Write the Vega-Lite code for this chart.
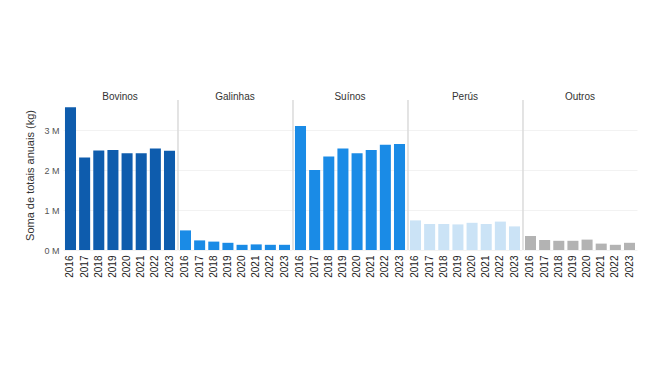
{
  "$schema": "https://vega.github.io/schema/vega-lite/v6.json",
  "background": "white",
  "padding": {"left": 24, "top": 92, "right": 5, "bottom": 5},
  "data": {"values": [
    {"categoria": "Bovinos", "ano": 2016, "valor": 3570000},
    {"categoria": "Bovinos", "ano": 2017, "valor": 2310000},
    {"categoria": "Bovinos", "ano": 2018, "valor": 2490000},
    {"categoria": "Bovinos", "ano": 2019, "valor": 2500000},
    {"categoria": "Bovinos", "ano": 2020, "valor": 2420000},
    {"categoria": "Bovinos", "ano": 2021, "valor": 2420000},
    {"categoria": "Bovinos", "ano": 2022, "valor": 2540000},
    {"categoria": "Bovinos", "ano": 2023, "valor": 2480000},
    {"categoria": "Galinhas", "ano": 2016, "valor": 490000},
    {"categoria": "Galinhas", "ano": 2017, "valor": 240000},
    {"categoria": "Galinhas", "ano": 2018, "valor": 210000},
    {"categoria": "Galinhas", "ano": 2019, "valor": 180000},
    {"categoria": "Galinhas", "ano": 2020, "valor": 130000},
    {"categoria": "Galinhas", "ano": 2021, "valor": 140000},
    {"categoria": "Galinhas", "ano": 2022, "valor": 130000},
    {"categoria": "Galinhas", "ano": 2023, "valor": 130000},
    {"categoria": "Suínos", "ano": 2016, "valor": 3100000},
    {"categoria": "Suínos", "ano": 2017, "valor": 2000000},
    {"categoria": "Suínos", "ano": 2018, "valor": 2340000},
    {"categoria": "Suínos", "ano": 2019, "valor": 2540000},
    {"categoria": "Suínos", "ano": 2020, "valor": 2420000},
    {"categoria": "Suínos", "ano": 2021, "valor": 2500000},
    {"categoria": "Suínos", "ano": 2022, "valor": 2630000},
    {"categoria": "Suínos", "ano": 2023, "valor": 2650000},
    {"categoria": "Perús", "ano": 2016, "valor": 740000},
    {"categoria": "Perús", "ano": 2017, "valor": 650000},
    {"categoria": "Perús", "ano": 2018, "valor": 650000},
    {"categoria": "Perús", "ano": 2019, "valor": 640000},
    {"categoria": "Perús", "ano": 2020, "valor": 680000},
    {"categoria": "Perús", "ano": 2021, "valor": 650000},
    {"categoria": "Perús", "ano": 2022, "valor": 710000},
    {"categoria": "Perús", "ano": 2023, "valor": 590000},
    {"categoria": "Outros", "ano": 2016, "valor": 350000},
    {"categoria": "Outros", "ano": 2017, "valor": 250000},
    {"categoria": "Outros", "ano": 2018, "valor": 230000},
    {"categoria": "Outros", "ano": 2019, "valor": 230000},
    {"categoria": "Outros", "ano": 2020, "valor": 260000},
    {"categoria": "Outros", "ano": 2021, "valor": 160000},
    {"categoria": "Outros", "ano": 2022, "valor": 130000},
    {"categoria": "Outros", "ano": 2023, "valor": 180000}
  ]},
  "facet": {
    "column": {
      "field": "categoria",
      "type": "nominal",
      "sort": ["Bovinos", "Galinhas", "Suínos", "Perús", "Outros"],
      "header": {"title": null, "labelFontSize": 10, "labelColor": "#333333", "labelFont": "Liberation Sans", "labelPadding": -3}
    }
  },
  "spacing": 0,
  "spec": {
    "width": 114,
    "height": 150,
    "layer": [
      {
        "mark": {"type": "bar"},
        "encoding": {
          "x": {
            "field": "ano",
            "type": "ordinal",
            "scale": {"paddingInner": 0.22, "paddingOuter": 0.14},
            "axis": {"title": null, "labelAngle": -90, "labelFontSize": 10, "labelColor": "#222222", "labelPadding": 4, "ticks": false, "domain": false, "labelFont": "Liberation Sans"}
          },
          "y": {
            "field": "valor",
            "type": "quantitative",
            "scale": {"domain": [0, 3750000], "nice": false},
            "axis": {
              "title": "Soma de totais anuais (kg)",
              "titleFontSize": 11,
              "titleFontWeight": "normal",
              "titleColor": "#333333",
              "titleFont": "Liberation Sans",
              "titlePadding": 8,
              "values": [0, 1000000, 2000000, 3000000],
              "labelExpr": "(datum.value / 1000000) + ' M'",
              "labelFontSize": 9,
              "labelColor": "#555555",
              "labelFont": "Liberation Sans",
              "labelPadding": 4,
              "ticks": false,
              "domain": false,
              "grid": true,
              "gridColor": "#f2f2f2"
            }
          },
          "color": {
            "field": "categoria",
            "type": "nominal",
            "scale": {"domain": ["Bovinos", "Galinhas", "Suínos", "Perús", "Outros"], "range": ["#0e5cad", "#1a8be6", "#1a8be6", "#cbe3f6", "#b3b3b3"]},
            "legend": null
          }
        }
      },
      {
        "transform": [{"filter": "datum.ano == 2016 && datum.categoria != 'Bovinos'"}],
        "mark": {"type": "rule", "color": "#c8c8c8", "strokeWidth": 1},
        "encoding": {
          "x": {"field": "ano", "type": "ordinal", "bandPosition": -0.18},
          "y": {"datum": 3750000, "type": "quantitative", "title": "Soma de totais anuais (kg)"},
          "y2": {"datum": 0}
        }
      }
    ]
  },
  "config": {"view": {"stroke": null}, "font": "Liberation Sans"}
}
